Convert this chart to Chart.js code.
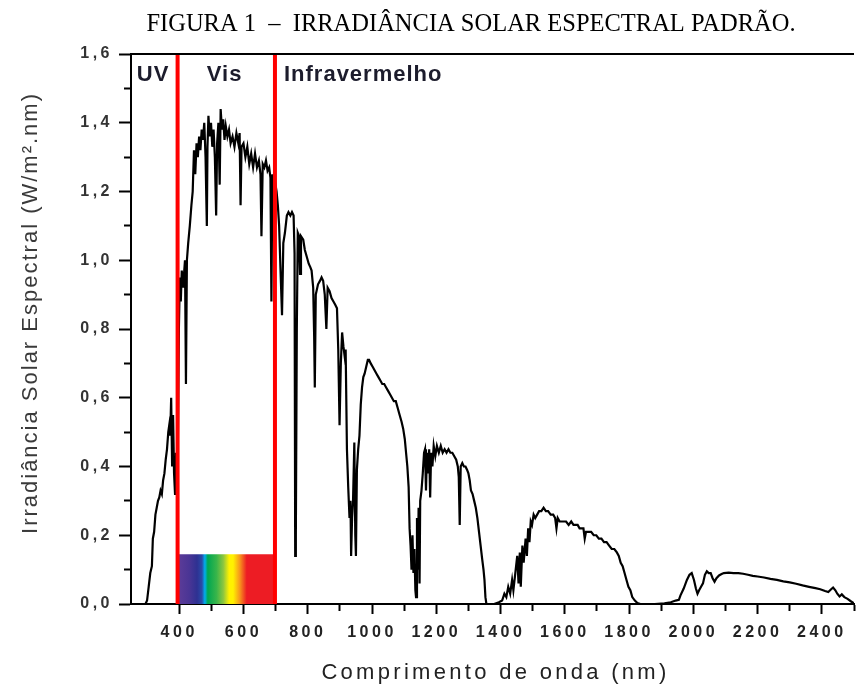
<!DOCTYPE html>
<html lang="pt">
<head>
<meta charset="utf-8">
<title>Irradiância solar espectral padrão</title>
<script src="https://cdn.jsdelivr.net/npm/chart.js@4.4.1/dist/chart.umd.min.js"></script>
<style>
  html, body { margin: 0; padding: 0; background: #fff; }
</style>
</head>
<body>
<canvas id="chart" width="863" height="688"></canvas>
<script>
// valores: comprimento de onda (nm) e irradiância (W/m².nm)
const uvNm  = [295, 300, 305, 310, 315, 318, 322, 326, 330, 334, 338, 342, 346, 350, 354, 358, 362, 366, 369, 372, 375, 378, 381, 384, 387, 390, 393, 396];
const uvIrr = [0.00, 0.01, 0.05, 0.09, 0.11, 0.19, 0.21, 0.26, 0.28, 0.30, 0.31, 0.33, 0.32, 0.36, 0.38, 0.42, 0.45, 0.50, 0.52, 0.49, 0.60, 0.40, 0.55, 0.38, 0.32, 0.44, 0.35, 0.48];

const visNm  = [399, 402, 405, 408, 412, 418, 421, 424, 428, 433, 438, 442, 446, 450, 454, 458, 462, 466, 470, 474,
                478, 482, 486, 488, 491, 495, 499, 503, 507, 511, 515, 518, 522, 526, 529, 533, 537, 541, 545, 550,
                555, 560, 566, 572, 578, 584, 588, 591, 594, 600, 606, 612, 618, 624, 630, 636, 642, 648, 653, 656,
                660, 665, 670, 675, 680, 684, 687, 690, 694, 698];
const visIrr = [0.80, 0.95, 0.88, 0.97, 0.92, 1.00, 0.64, 1.00, 1.05, 1.10, 1.16, 1.20, 1.32, 1.25, 1.34, 1.30, 1.36, 1.32, 1.38, 1.35,
                1.40, 1.30, 1.10, 1.33, 1.42, 1.36, 1.40, 1.33, 1.38, 1.30, 1.13, 1.34, 1.40, 1.22, 1.44, 1.38, 1.41, 1.35, 1.39, 1.36,
                1.38, 1.34, 1.36, 1.33, 1.37, 1.34, 1.37, 1.16, 1.33, 1.34, 1.30, 1.33, 1.28, 1.31, 1.27, 1.31, 1.27, 1.29, 1.25, 1.07,
                1.28, 1.27, 1.29, 1.26, 1.27, 1.24, 0.88, 1.25, 1.21, 1.23];

const nir1Nm  = [703, 707, 711, 715, 720, 724, 729, 735, 740, 746, 751, 756, 759, 761, 763, 766, 769, 773, 776, 779,
                 786, 791, 797, 803, 808, 812, 817, 820, 822, 825, 832, 838, 843, 848, 853, 858, 862, 868, 874, 880,
                 886, 891, 895, 899, 903, 907, 911, 915, 918, 922, 926, 930, 933, 935, 938, 941, 945, 948, 950, 953,
                 957, 961, 965, 969, 973, 977, 982, 987, 991, 996];
const nir1Irr = [1.20, 1.16, 1.10, 0.98, 0.84, 1.05, 1.08, 1.13, 1.14, 1.13, 1.14, 1.13, 1.02, 0.14, 0.20, 0.80, 1.08, 1.07, 0.96, 1.07,
                 1.06, 1.03, 1.01, 0.99, 0.98, 0.97, 0.92, 0.78, 0.63, 0.90, 0.93, 0.94, 0.95, 0.94, 0.90, 0.80, 0.92, 0.91, 0.89, 0.88,
                 0.87, 0.86, 0.74, 0.52, 0.70, 0.79, 0.75, 0.72, 0.74, 0.45, 0.34, 0.25, 0.30, 0.14, 0.25, 0.30, 0.47, 0.20, 0.14, 0.39,
                 0.45, 0.49, 0.58, 0.63, 0.66, 0.67, 0.69, 0.71, 0.71, 0.70];

const nir2Nm  = [1002, 1008, 1014, 1020, 1026, 1032, 1038, 1044, 1050, 1056, 1062, 1068, 1074, 1080, 1086, 1092, 1097, 1102, 1106, 1110,
                 1114, 1117, 1120, 1123, 1126, 1129, 1132, 1135, 1137, 1140, 1143, 1145, 1148, 1150, 1154, 1158, 1162, 1165, 1168, 1171,
                 1175, 1178, 1181, 1184, 1188, 1192, 1197, 1202, 1208, 1214, 1220, 1226, 1232, 1238, 1244, 1250, 1256, 1262, 1267, 1270,
                 1273, 1276, 1281, 1286, 1291, 1296, 1300, 1304, 1308, 1313, 1318, 1323, 1328, 1333, 1338, 1343, 1347, 1350, 1353, 1356];
const nir2Irr = [0.69, 0.68, 0.67, 0.66, 0.65, 0.64, 0.64, 0.63, 0.62, 0.61, 0.60, 0.59, 0.59, 0.57, 0.55, 0.53, 0.51, 0.48, 0.44, 0.40,
                 0.34, 0.22, 0.17, 0.10, 0.20, 0.09, 0.16, 0.04, 0.02, 0.25, 0.10, 0.28, 0.06, 0.30, 0.33, 0.38, 0.44, 0.45, 0.33, 0.44,
                 0.38, 0.45, 0.31, 0.44, 0.40, 0.46, 0.43, 0.46, 0.44, 0.46, 0.44, 0.45, 0.44, 0.45, 0.44, 0.44, 0.43, 0.42, 0.40, 0.37,
                 0.23, 0.40, 0.41, 0.40, 0.40, 0.39, 0.38, 0.36, 0.33, 0.32, 0.30, 0.28, 0.25, 0.21, 0.17, 0.13, 0.10, 0.07, 0.02, 0.00];

const swir1Nm  = [1365, 1380, 1395, 1405, 1412, 1418, 1424, 1430, 1436, 1440, 1446, 1452, 1456, 1460, 1463, 1468, 1472, 1478, 1482, 1486,
                  1490, 1494, 1498, 1503, 1508, 1514, 1520, 1527, 1534, 1541, 1548, 1556, 1564, 1570, 1574, 1578, 1584, 1590, 1597, 1604,
                  1612, 1620, 1627, 1634, 1640, 1646, 1652, 1658, 1662, 1666, 1674, 1682, 1690, 1698, 1706, 1714, 1722, 1730, 1738, 1746,
                  1754, 1762, 1768, 1774, 1780, 1786, 1792, 1798, 1804, 1810, 1818, 1826, 1835];
const swir1Irr = [0.00, 0.00, 0.005, 0.01, 0.03, 0.02, 0.05, 0.03, 0.07, 0.04, 0.09, 0.14, 0.06, 0.15, 0.05, 0.17, 0.12, 0.19, 0.14, 0.22,
                  0.18, 0.24, 0.23, 0.26, 0.25, 0.26, 0.27, 0.27, 0.28, 0.27, 0.27, 0.26, 0.26, 0.25, 0.22, 0.25, 0.24, 0.24, 0.24, 0.24,
                  0.23, 0.24, 0.23, 0.23, 0.23, 0.22, 0.22, 0.22, 0.19, 0.21, 0.21, 0.21, 0.20, 0.20, 0.19, 0.19, 0.18, 0.18, 0.17, 0.16,
                  0.16, 0.15, 0.14, 0.12, 0.11, 0.09, 0.07, 0.05, 0.04, 0.02, 0.01, 0.003, 0.00];

const swir2Nm  = [1850, 1880, 1910, 1930, 1945, 1955, 1960, 1970, 1980, 1988, 1995, 2002, 2008, 2013, 2018, 2024, 2030, 2036, 2042, 2048,
                  2054, 2060, 2066, 2072, 2080, 2088, 2095, 2110, 2125, 2140, 2155, 2170, 2185, 2200, 2220, 2240, 2260, 2280, 2300, 2320,
                  2340, 2360, 2380, 2395, 2410, 2420, 2428, 2435, 2442, 2448, 2455, 2462, 2470, 2480, 2490, 2500];
const swir2Irr = [0.00, 0.00, 0.002, 0.005, 0.01, 0.012, 0.025, 0.045, 0.07, 0.085, 0.09, 0.07, 0.045, 0.03, 0.04, 0.05, 0.06, 0.085, 0.095, 0.09,
                  0.09, 0.075, 0.065, 0.075, 0.083, 0.087, 0.09, 0.091, 0.09, 0.09, 0.088, 0.085, 0.082, 0.08, 0.077, 0.073, 0.07, 0.066, 0.063, 0.059,
                  0.054, 0.05, 0.046, 0.043, 0.038, 0.035, 0.042, 0.048, 0.04, 0.03, 0.022, 0.028, 0.02, 0.015, 0.008, 0.002];

// faixa do visível (linhas vermelhas e barra do espectro)
const visibleEdges = [395, 698];
const rainbowTop = 0.145;

// rótulos das regiões
const regionNames = ['UV', 'Vis', 'Infravermelho'];
const regionStartNm = [268, 486, 726];
const regionLabelY = 1.54;

const xRange = [250, 2500];
const yRange = [0, 1.6];

const chartTitle = 'FIGURA 1  –  IRRADIÂNCIA SOLAR ESPECTRAL PADRÃO.';
const xTitle = 'Comprimento de onda (nm)';
const yTitle = 'Irradiância Solar Espectral (W/m².nm)';

const toPoints = (nm, irr) => nm.map((v, i) => ({ x: v, y: irr[i] }));

const spectrum = [
    ...toPoints(uvNm, uvIrr),
    ...toPoints(visNm, visIrr),
    ...toPoints(nir1Nm, nir1Irr),
    ...toPoints(nir2Nm, nir2Irr),
    ...toPoints(swir1Nm, swir1Irr),
    ...toPoints(swir2Nm, swir2Irr)
];

const sansFamily = "'Liberation Sans', Arial, sans-serif";
const tickFont = { family: sansFamily, size: 16, weight: 'bold' };

function rainbowFill(context) {
    const chart = context.chart;
    if (!chart.chartArea) return 'rgba(0,0,0,0)';
    const xs = chart.scales.x;
    const g = chart.ctx.createLinearGradient(xs.getPixelForValue(visibleEdges[0]), 0, xs.getPixelForValue(visibleEdges[1]), 0);
    g.addColorStop(0.00, '#5e3c98');
    g.addColorStop(0.12, '#4a3595');
    g.addColorStop(0.20, '#2e3192');
    g.addColorStop(0.25, '#2a4aa8');
    g.addColorStop(0.28, '#00aeef');
    g.addColorStop(0.31, '#00a651');
    g.addColorStop(0.40, '#39b54a');
    g.addColorStop(0.47, '#8dc63f');
    g.addColorStop(0.53, '#fff200');
    g.addColorStop(0.57, '#fff200');
    g.addColorStop(0.64, '#f7941d');
    g.addColorStop(0.71, '#ed1c24');
    g.addColorStop(1.00, '#ed1c24');
    return g;
}

// textos da figura (título, títulos dos eixos, regiões) e moldura superior
const figureText = {
    id: 'figureText',
    beforeDraw(chart) {
        chart.ctx.letterSpacing = '3.5px';   // rótulos dos eixos espaçados
    },
    afterDraw(chart) {
        const { ctx, chartArea, scales: { x, y } } = chart;
        ctx.save();

        ctx.strokeStyle = '#000';
        ctx.lineWidth = 2;
        ctx.beginPath();
        ctx.moveTo(chartArea.left, chartArea.top);
        ctx.lineTo(chartArea.right, chartArea.top);
        ctx.stroke();

        ctx.textBaseline = 'middle';

        ctx.letterSpacing = '1px';
        ctx.font = 'bold 22px ' + sansFamily;
        ctx.fillStyle = '#1c1c2c';
        ctx.textAlign = 'left';
        regionNames.forEach((name, i) => {
            ctx.fillText(name, x.getPixelForValue(regionStartNm[i]), y.getPixelForValue(regionLabelY));
        });

        ctx.letterSpacing = '0px';
        ctx.font = "24.5px 'Liberation Serif', 'Times New Roman', serif";
        ctx.fillStyle = '#000';
        ctx.textAlign = 'center';
        ctx.fillText(chartTitle, 471, 25);

        ctx.letterSpacing = '3.3px';
        ctx.font = '22px ' + sansFamily;
        ctx.fillStyle = '#222';
        ctx.fillText(xTitle, (chartArea.left + chartArea.right) / 2 + 3, 673);

        ctx.letterSpacing = '2px';
        ctx.fillStyle = '#3a3a3a';
        ctx.translate(31, 313);
        ctx.rotate(-Math.PI / 2);
        ctx.fillText(yTitle, 0, 0);

        ctx.restore();
        ctx.letterSpacing = '0px';
    }
};

new Chart(document.getElementById('chart'), {
    type: 'line',
    data: {
        datasets: [
            {
                label: 'limite UV',
                data: [{ x: visibleEdges[0], y: yRange[0] }, { x: visibleEdges[0], y: yRange[1] }],
                borderColor: '#ff0000',
                borderWidth: 4,
                pointRadius: 0,
                order: 0
            },
            {
                label: 'limite IV',
                data: [{ x: visibleEdges[1], y: yRange[0] }, { x: visibleEdges[1], y: yRange[1] }],
                borderColor: '#ff0000',
                borderWidth: 4,
                pointRadius: 0,
                order: 0
            },
            {
                label: 'Irradiância',
                data: spectrum,
                borderColor: '#000',
                borderWidth: 2.2,
                pointRadius: 0,
                tension: 0,
                order: 1
            },
            {
                label: 'espectro visível',
                data: [{ x: visibleEdges[0], y: rainbowTop }, { x: visibleEdges[1], y: rainbowTop }],
                borderColor: 'rgba(0,0,0,0)',
                borderWidth: 0,
                backgroundColor: rainbowFill,
                fill: 'origin',
                pointRadius: 0,
                order: 2
            }
        ]
    },
    options: {
        responsive: false,
        animation: false,
        devicePixelRatio: 1,
        layout: { padding: { top: 54, left: 0, right: 0, bottom: 0 } },
        plugins: {
            legend: { display: false },
            tooltip: { enabled: false },
            title: { display: false }
        },
        scales: {
            x: {
                type: 'linear',
                min: xRange[0],
                max: xRange[1],
                afterFit: s => { s.height = 84; },
                border: { display: true, color: '#000', width: 2 },
                grid: {
                    drawOnChartArea: false,
                    tickLength: 10,
                    tickWidth: 2,
                    tickColor: c => (c.tick && c.tick.value % 100 === 0) ? '#000' : 'rgba(0,0,0,0)',
                    tickBorderDash: c => (c.tick && c.tick.value % 200 !== 0) ? [6, 20] : []
                },
                ticks: {
                    stepSize: 100,
                    maxTicksLimit: 30,
                    autoSkip: false,
                    maxRotation: 0,
                    padding: 9,
                    color: '#222',
                    font: tickFont,
                    callback: v => v % 200 === 0 ? String(v) : ''
                }
            },
            y: {
                min: yRange[0],
                max: yRange[1],
                afterFit: s => { s.width = 131; },
                border: { display: true, color: '#000', width: 2 },
                grid: {
                    drawOnChartArea: false,
                    tickLength: 12,
                    tickWidth: 2,
                    tickColor: '#000',
                    tickBorderDash: c => (c.index % 2 === 1) ? [0, 5, 6, 20] : []
                },
                ticks: {
                    stepSize: 0.1,
                    maxTicksLimit: 20,
                    autoSkip: false,
                    padding: 6,
                    color: '#333',
                    font: tickFont,
                    callback: (v, i) => i % 2 === 0 ? v.toFixed(1).replace('.', ',') : ''
                }
            }
        }
    },
    plugins: [figureText]
});
</script>
</body>
</html>
